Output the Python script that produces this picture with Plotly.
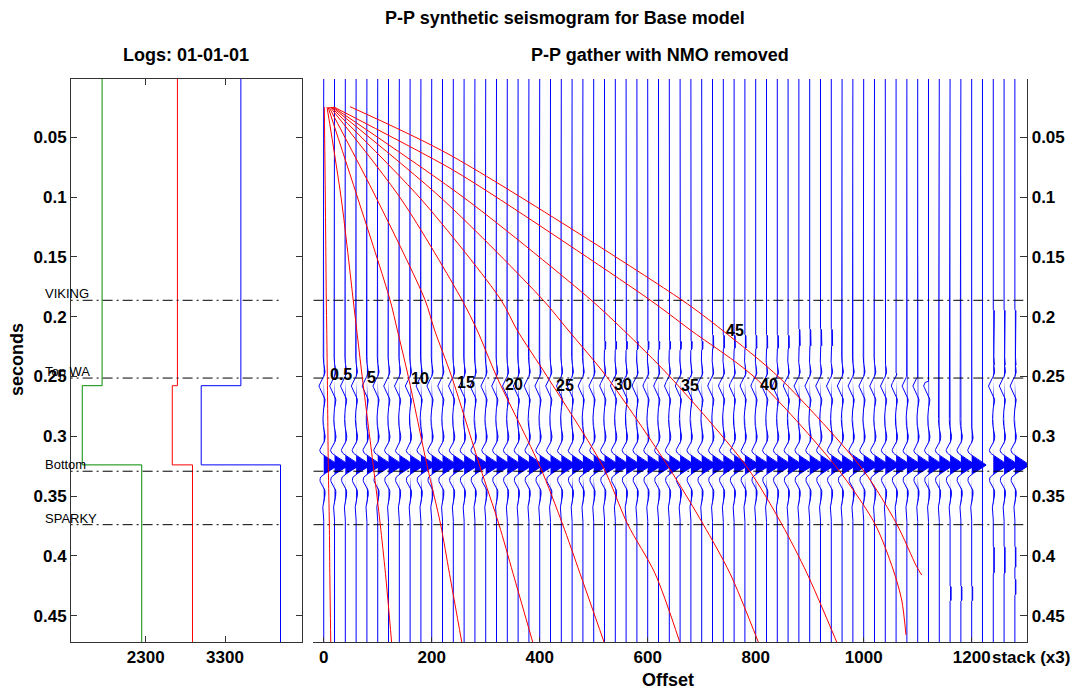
import numpy as np
import plotly.graph_objects as go

# ------------------------------------------------------------------ data
# blocked logs (layer boundaries in two-way time, s)
log_times = [0.0, 0.2577, 0.3239, 0.48]
vs_log = [1750, 1500, 2250]      # green
rho_log = [2700, 2635, 2890]     # red
vp_log = [3500, 3000, 4000]      # blue

tops_names = ["VIKING", "Top WA", "Bottom", "SPARKY"]
tops_times = [0.1863, 0.2513, 0.3292, 0.3739]
tops_log_x = [1000, 4000]        # extent of the tops lines on the log panel

# gather
gather_offsets = list(range(0, 1201, 20))
blank_offset = 1220
stack_offsets = [1240, 1260, 1280]
stack_label_x = 1310

# reflection events (time, relative amplitude)
event_times = [0.2577, 0.3239]
event_amps = [-0.34, 1.0]

# zero-phase wavelet, one side (lag s, value)
wavelet_lags = [0.000, 0.002, 0.004, 0.006, 0.008, 0.010, 0.012, 0.014, 0.016,
                0.018, 0.020, 0.022, 0.024, 0.026, 0.028, 0.030, 0.032, 0.034,
                0.036, 0.038, 0.040, 0.042]
wavelet_vals = [1.00, 0.78, 0.52, 0.25, 0.00, -0.20, -0.27, -0.24, -0.14,
                -0.03, 0.05, 0.09, 0.10, 0.08, 0.04, 0.00, -0.04, -0.06,
                -0.06, -0.04, -0.02, 0.00]

# far-offset mute (offset, first live time)
mute_offsets = [1040, 1060, 1080, 1100, 1120, 1140, 1160, 1180, 1200]
mute_times = [0.236, 0.248, 0.250, 0.252, 0.255, 0.280, 0.282, 0.285, 0.290]

# small positive leaks that plot as thin filled dashes (offset, t0, t1)
leak_offsets = [1160, 1180, 1200, 1240, 1260, 1280, 1240, 1260, 1280, 1280]
leak_t0 = [0.426, 0.426, 0.426, 0.195, 0.195, 0.195, 0.393, 0.393, 0.393, 0.420]
leak_t1 = [0.437, 0.437, 0.437, 0.240, 0.240, 0.240, 0.415, 0.415, 0.410, 0.432]
# bands of leaks across several traces (first offset, last offset, t0, t1)
leak_band_first = [520, 720, 880]
leak_band_last = [700, 860, 940]
leak_band_t0 = [0.221, 0.216, 0.211]
leak_band_t1 = [0.227, 0.226, 0.224]

# incidence-angle contours
angle_labels = ["0.5", "5", "10", "15", "20", "25", "30", "35", "40", "45"]
common_t = [0.0247, 0.1024, 0.1860, 0.2111, 0.2502, 0.3254, 0.3733, 0.4146, 0.472]
angle_curve_t = [common_t] * 8 + [
    [0.0247, 0.0759, 0.1024, 0.1860, 0.2111, 0.2502, 0.3254, 0.3733, 0.4118, 0.4369, 0.4661],
    [0.0244, 0.0648, 0.1860, 0.2111, 0.2515, 0.3281, 0.3733, 0.4090, 0.4160],
]
angle_curve_x = [
    [1.1, 3.0, 4.8, 5.6, 6.7, 8.5, 10.4, 11.3, 13.0],
    [6.1, 32.8, 54.6, 61.1, 71.3, 92.0, 104.6, 114.3, 125.7],
    [8.0, 64.1, 122.8, 136.3, 156.7, 191.9, 216.3, 232.8, 255.6],
    [9.8, 99.3, 187.6, 205.2, 237.0, 289.4, 324.3, 350.6, 387.0],
    [11.7, 144.4, 256.1, 283.9, 320.4, 400.6, 442.2, 474.6, 519.1],
    [13.5, 181.5, 328.3, 358.0, 414.1, 517.2, 562.6, 613.5, 659.3],
    [15.4, 221.5, 406.1, 452.4, 524.1, 638.1, 702.4, 752.4, 804.8],
    [17.2, 265.4, 495.0, 554.8, 641.3, 783.3, 848.1, 895.0, 950.0],
    [19.1, 233.9, 327.8, 604.3, 678.9, 796.9, 948.7, 1020.9, 1054.8, 1070.4, 1078.3],
    [48.7, 233.9, 663.0, 737.6, 845.0, 998.7, 1061.1, 1098.1, 1107.4],
]
angle_label_x = [8.5, 76.5, 158.0, 243.1, 332.0, 426.5, 533.9, 658.0, 804.3, 740.6]
angle_label_t = [0.2487, 0.2508, 0.2517, 0.2554, 0.2571, 0.2575, 0.2571, 0.2579, 0.2571, 0.2115]

# axis ticks
time_ticks = [0.05, 0.1, 0.15, 0.2, 0.25, 0.3, 0.35, 0.4, 0.45]
time_tick_text = ["0.05", "0.1", "0.15", "0.2", "0.25", "0.3", "0.35", "0.4", "0.45"]
log_ticks = [2300, 3300]
offset_ticks = [0, 200, 400, 600, 800, 1000, 1200]

# ------------------------------------------------------------------ figure
W, H = 1076, 694
def px(x):
    return x / W
def py(y):
    return 1 - y / H

t_range = [0.472, 0.00125]
log_range = [1358, 4271]
off_range = [-19.3, 1303]
dom_x1 = [px(71), px(302)]
dom_x2 = [px(313.3), px(1027.3)]
dom_y = [py(642), py(79)]
FONT = "Liberation Sans, Arial, sans-serif"
AX = "#333333"

def to_paper(v, rng, dom):
    return dom[0] + (v - rng[0]) / (rng[1] - rng[0]) * (dom[1] - dom[0])

fig = go.Figure()

# logs
def step_curve(vals):
    xs, ys = [], []
    for i, v in enumerate(vals):
        xs += [v, v]
        ys += [log_times[i], log_times[i + 1]]
    return xs, ys

for vals, col in [(vs_log, "rgb(0,140,0)"), (rho_log, "rgb(255,0,0)"), (vp_log, "rgb(0,0,255)")]:
    xs, ys = step_curve(vals)
    fig.add_trace(go.Scatter(x=xs, y=ys, mode="lines", line=dict(color=col, width=1),
                             xaxis="x", yaxis="y", hoverinfo="skip"))

DASH = "10px,4px,2px,4px"
for tt in tops_times:
    fig.add_trace(go.Scatter(x=tops_log_x, y=[tt, tt], mode="lines",
                             line=dict(color="black", width=1, dash=DASH),
                             xaxis="x", yaxis="y", hoverinfo="skip"))

# synthetic traces
t = np.arange(0.0, 0.4731, 0.001)
lags = np.array(wavelet_lags)
wv = np.array(wavelet_vals)
full_lags = np.concatenate([-lags[::-1], lags[1:]])
full_vals = np.concatenate([wv[::-1], wv[1:]])

def synth(offset, mute_t=None):
    s = np.zeros_like(t)
    for te, a in zip(event_times, event_amps):
        s += a * np.interp(t - te, full_lags, full_vals, left=0.0, right=0.0)
    if mute_t is not None:
        s[t < mute_t] = 0.0
    for o, a0, a1 in zip(leak_offsets, leak_t0, leak_t1):
        if o == offset:
            s[(t >= a0) & (t <= a1)] += 0.07
    for o0, o1, a0, a1 in zip(leak_band_first, leak_band_last, leak_band_t0, leak_band_t1):
        if o0 <= offset <= o1:
            s[(t >= a0) & (t <= a1)] += 0.07
    return s

SCALE = 27.0
traces = []
for o in gather_offsets:
    m = mute_times[mute_offsets.index(o)] if o in mute_offsets else None
    traces.append((o, synth(o, m)))
traces.append((blank_offset, np.zeros_like(t)))
for o in stack_offsets:
    traces.append((o, synth(o)))

lx, ly, fx, fy = [], [], [], []
for o, s in traces:
    lx += list(o + SCALE * s) + [None]
    ly += list(t) + [None]
    pos = o + SCALE * np.clip(s, 0, None)
    fx += list(pos) + [o, o, None]
    fy += list(t) + [t[-1], t[0], None]

fig.add_trace(go.Scatter(x=fx, y=fy, mode="lines", fill="toself",
                         fillcolor="rgb(0,0,255)", line=dict(width=0, color="rgb(0,0,255)"),
                         xaxis="x2", yaxis="y2", hoverinfo="skip"))
fig.add_trace(go.Scatter(x=lx, y=ly, mode="lines", line=dict(color="rgb(0,0,255)", width=1),
                         xaxis="x2", yaxis="y2", hoverinfo="skip"))

for tt in tops_times:
    fig.add_trace(go.Scatter(x=off_range, y=[tt, tt], mode="lines",
                             line=dict(color="black", width=1, dash=DASH),
                             xaxis="x2", yaxis="y2", hoverinfo="skip"))

for ct, cx in zip(angle_curve_t, angle_curve_x):
    fig.add_trace(go.Scatter(x=cx, y=ct, mode="lines",
                             line=dict(color="rgb(255,0,0)", width=1, shape="spline", smoothing=0.8),
                             xaxis="x2", yaxis="y2", hoverinfo="skip"))

ann = []
for lab, ax_, at_ in zip(angle_labels, angle_label_x, angle_label_t):
    ann.append(dict(x=ax_, y=at_, xref="x2", yref="y2", text="<b>%s</b>" % lab, showarrow=False,
                    xanchor="left", yanchor="middle", font=dict(size=16, family=FONT, color="black")))
for name, tt in zip(tops_names, tops_times):
    ann.append(dict(x=to_paper(tops_log_x[0], log_range, dom_x1), y=tt, xref="paper", yref="y",
                    text=name, showarrow=False, xanchor="left", yanchor="bottom", yshift=-3,
                    font=dict(size=13, family=FONT, color="black")))

def title_ann(text, x, y, size=18, angle=0):
    return dict(x=px(x), y=py(y), xref="paper", yref="paper", text="<b>%s</b>" % text,
                showarrow=False, xanchor="center", yanchor="middle", textangle=angle,
                font=dict(size=size, family=FONT, color="black"))

ann.append(title_ann("P-P synthetic seismogram for Base model", 565, 18))
ann.append(title_ann("Logs: 01-01-01", 186, 55))
ann.append(title_ann("P-P gather with NMO removed", 660, 55))
ann.append(title_ann("Offset", 668, 680))
ann.append(title_ann("seconds", 17, 360, angle=-90))
ann.append(dict(x=to_paper(stack_label_x, off_range, dom_x2), y=py(657), xref="paper", yref="paper",
                text="<b>stack (x3)</b>", showarrow=False, xanchor="center", yanchor="middle",
                font=dict(size=17, family=FONT, color="black")))

tickfont = dict(size=17, family=FONT, color="black", weight="bold")
common_axis = dict(showgrid=False, zeroline=False, showline=True, linecolor=AX, linewidth=1,
                   ticks="inside", tickcolor=AX, tickfont=tickfont, automargin=False)

fig.update_layout(
    width=W, height=H, margin=dict(l=0, r=0, t=0, b=0, autoexpand=False),
    paper_bgcolor="white", plot_bgcolor="white", showlegend=False,
    font=dict(family=FONT, size=17, color="black"),
    xaxis=dict(domain=dom_x1, range=log_range, tickvals=log_ticks,
               ticklen=6, mirror="ticks", anchor="y", **common_axis),
    yaxis=dict(domain=dom_y, range=t_range, tickvals=time_ticks, ticktext=time_tick_text,
               ticklen=6, mirror="ticks", anchor="x", **common_axis),
    xaxis2=dict(domain=dom_x2, range=off_range, tickvals=offset_ticks,
                ticklen=5, anchor="y2", **common_axis),
    yaxis2=dict(domain=dom_y, range=t_range, tickvals=time_ticks, ticktext=time_tick_text,
                ticklen=7, side="right", anchor="x2", **common_axis),
    annotations=ann,
)

fig.write_html("out.html", config={"displayModeBar": False},
               post_script="document.body.style.margin='0px';document.body.style.padding='0px';"
                           "document.body.style.overflow='hidden';")
